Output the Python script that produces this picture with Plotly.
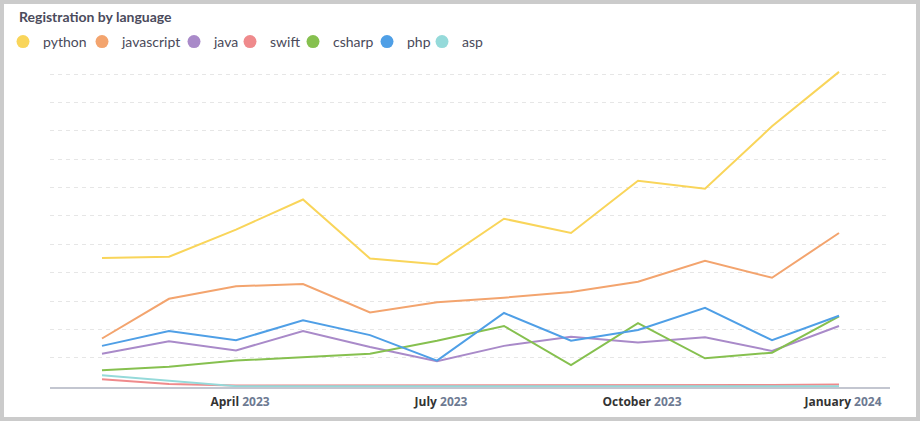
import plotly.graph_objects as go

# monthly registrations, Feb 2023 .. Jan 2024 (months are evenly spaced in the original)
months = ["2023-02", "2023-03", "2023-04", "2023-05", "2023-06", "2023-07",
          "2023-08", "2023-09", "2023-10", "2023-11", "2023-12", "2024-01"]

python = [226, 228, 276, 329, 225, 215, 295, 270, 362, 348, 458, 554]
javascript = [84, 154, 176, 180, 130, 148, 156, 166, 184, 221, 191, 270]
java = [57, 79, 63, 97, 69, 44, 71, 87, 77, 86, 62, 106]
swift = [12, 4, 1, 1, 2, 1, 2, 1, 1, 2, 2, 3]
csharp = [28, 34, 45, 51, 57, 80, 106, 37, 111, 49, 59, 123]
php = [71, 97, 81, 116, 90, 45, 129, 80, 99, 138, 81, 124]
asp = [19, 9, 0, 0, 0, 0, 0, 0, 0, 0, 0, 0]

names = ["python", "javascript", "java", "swift", "csharp", "php", "asp"]
values = [python, javascript, java, swift, csharp, php, asp]
colors = ["#f9d55a", "#f3a46e", "#a98ac9", "#ef8a8c", "#86c04f", "#4f9fe6", "#95dada"]

tick_cats = ["2023-04", "2023-07", "2023-10", "2024-01"]
tick_months = ["April", "July", "October", "January"]
tick_years = ["2023", "2023", "2023", "2024"]
grid_vals = [50, 100, 150, 200, 250, 300, 350, 400, 450, 500, 550]

W, H = 920, 421
ml, mr, mt, mb = 50, 30, 52, 34
pw, ph = W - ml - mr, H - mt - mb

# left edge (px) of each one-item legend, so the row looks like the original legend
legend_left = [3, 82, 174, 230, 293, 367, 422]

fig = go.Figure()

legends = {}
for i, (name, vals, color) in enumerate(zip(names, values, colors)):
    lg = "legend" if i == 0 else f"legend{i + 1}"
    fig.add_trace(go.Scatter(x=months, y=vals, mode="lines", name=name,
                             line=dict(color=color, width=2), legendgroup=name,
                             showlegend=False, hoverinfo="x+y+name"))
    # legend entry with a round marker
    fig.add_trace(go.Scatter(x=[None], y=[None], mode="markers", name=name,
                             marker=dict(color=color, size=13, symbol="circle"),
                             legendgroup=name, showlegend=True, legend=lg))
    legends[lg] = dict(orientation="h", xref="container", yref="container",
                       x=legend_left[i] / W, xanchor="left",
                       y=1 - 26 / H, yanchor="top", bgcolor="rgba(0,0,0,0)",
                       font=dict(size=14, color="#4a4a5a", family="Lato"),
                       itemclick=False, itemdoubleclick=False)

ticktext = [f"<b>{m} <span style='color:#6d7a92'>{y}</span></b>"
            for m, y in zip(tick_months, tick_years)]

fig.update_layout(
    width=W, height=H,
    margin=dict(l=ml, r=mr, t=mt, b=mb, autoexpand=False),
    paper_bgcolor="white", plot_bgcolor="white",
    font=dict(family="Lato, 'Open Sans', sans-serif", color="#4a4a5a"),
    title=dict(text="<b>Registration by language</b>", x=19 / W, xanchor="left",
               y=1 - 17 / H, yanchor="middle",
               font=dict(size=14, color="#4b4b5c", family="Lato")),
    xaxis=dict(type="category", categoryorder="array", categoryarray=months,
               range=[-0.776, 11.761],
               tickvals=tick_cats, ticktext=ticktext, ticklabelshift=4, ticklabelstandoff=3,
               showgrid=False, showline=True, linecolor="#c3c6d0", linewidth=2,
               ticks="", layer="below traces",
               tickfont=dict(family="'Open Sans', sans-serif", size=12, color="#333333")),
    yaxis=dict(range=[-1.5, 589], tickvals=grid_vals, showticklabels=False,
               showgrid=True, gridcolor="#e6e6e6", griddash="4px,4px", gridwidth=1,
               zeroline=False, showline=False, fixedrange=True),
    showlegend=True,
    **legends,
)

# gray frame around the card
fig.add_shape(type="rect", xref="paper", yref="paper",
              x0=(2 - ml) / pw, x1=1 + (mr - 2) / pw,
              y0=(2 - mb) / ph, y1=1 + (mt - 2) / ph,
              line=dict(color="#cbcbcb", width=4), fillcolor="rgba(0,0,0,0)",
              layer="above")

fig.write_html("out.html", config={"displayModeBar": False},
               post_script="document.body.style.margin='0';document.body.style.overflow='hidden';")
